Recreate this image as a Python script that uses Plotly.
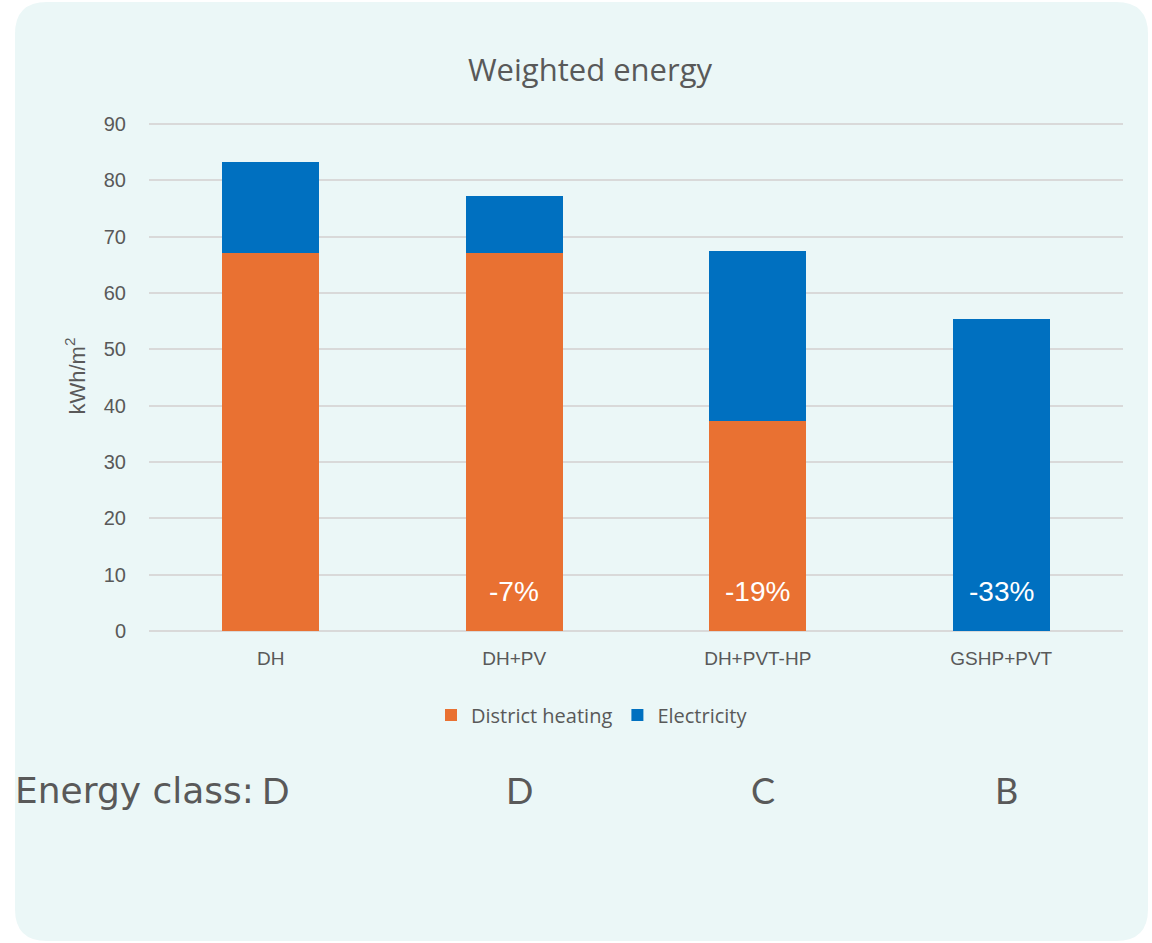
import plotly.graph_objects as go

categories = ["DH", "DH+PV", "DH+PVT-HP", "GSHP+PVT"]
district_heating = [67.1, 67.1, 37.2, 0]
electricity = [16.2, 10.1, 30.3, 55.4]
change_labels = ["", "-7%", "-19%", "-33%"]
energy_classes = ["D", "D", "C", "B"]
y_ticks = [0, 10, 20, 30, 40, 50, 60, 70, 80, 90]

W, H = 1152, 943
L, R, T, B = 149, 29, 121, 312
pw, ph = W - L - R, H - T - B

def px(x):
    return (x - L) / pw

def py(y):
    return (H - B - y) / ph

fig = go.Figure()
fig.add_trace(go.Bar(x=categories, y=district_heating, name="District heating",
                     marker=dict(color="#E97132", line=dict(width=0))))
fig.add_trace(go.Bar(x=categories, y=electricity, name="Electricity",
                     marker=dict(color="#0070C0", line=dict(width=0))))

# percentage labels inside bars
for c, t in zip(categories, change_labels):
    if t:
        fig.add_annotation(x=c, y=7.0, text=t, showarrow=False, xref="x", yref="y",
                           font=dict(color="white", size=28, family="Liberation Sans, Arial"))

# energy class row
fig.add_annotation(x=px(13), y=py(790), xref="paper", yref="paper", text="Energy class:",
                   showarrow=False, xanchor="left", yanchor="middle",
                   font=dict(size=36, color="#595959", family="DejaVu Sans, Noto Sans"))
for c, e in zip(categories, energy_classes):
    fig.add_annotation(x=c, y=py(790), xref="x", yref="paper", text=e, showarrow=False,
                       xanchor="center", yanchor="middle", xshift=5,
                       font=dict(size=36, color="#595959", family="Lato, Noto Sans"))

# rounded card background
x0, x1, y0, y1, r = px(15), px(1148), py(2), py(941), 32
rx, ry = r / pw, r / ph
path = (f"M {x0+rx},{y0} L {x1-rx},{y0} Q {x1},{y0} {x1},{y0-ry} "
        f"L {x1},{y1+ry} Q {x1},{y1} {x1-rx},{y1} L {x0+rx},{y1} Q {x0},{y1} {x0},{y1+ry} "
        f"L {x0},{y0-ry} Q {x0},{y0} {x0+rx},{y0} Z")
fig.add_shape(type="path", path=path, xref="paper", yref="paper",
              fillcolor="#EBF7F7", line=dict(width=0), layer="below")

fig.update_layout(
    width=W, height=H,
    margin=dict(l=L, r=R, t=T, b=B, pad=0),
    paper_bgcolor="white", plot_bgcolor="rgba(0,0,0,0)",
    barmode="stack", bargap=0.6,
    title=dict(text="Weighted energy", x=px(590), xanchor="center", xref="paper",
               y=1 - 70 / H, yanchor="middle",
               font=dict(size=31, color="#595959", family="Open Sans, Noto Sans")),
    legend=dict(orientation="h", x=px(592), xanchor="center", y=py(715), yanchor="middle",
                font=dict(size=20, color="#595959", family="Open Sans, Noto Sans"),
                bgcolor="rgba(0,0,0,0)", itemwidth=30, traceorder="normal"),
    showlegend=True,
)
fig.update_yaxes(range=[0, 90.5], tickvals=y_ticks, showgrid=True, gridcolor="#D9D9D9",
                 gridwidth=1.5, zeroline=True, zerolinecolor="#D9D9D9", zerolinewidth=1.5,
                 ticks="", ticklabelstandoff=22,
                 tickfont=dict(size=20, color="#595959", family="Liberation Sans, Arial"),
                 title=dict(text="kWh/m<sup>2</sup>", standoff=12,
                            font=dict(size=22, color="#595959", family="Liberation Sans, Arial")))
fig.update_xaxes(showgrid=False, ticks="", ticklabelstandoff=14,
                 tickfont=dict(size=19, color="#595959", family="Liberation Sans, Arial"))

fig.write_html("out.html")
